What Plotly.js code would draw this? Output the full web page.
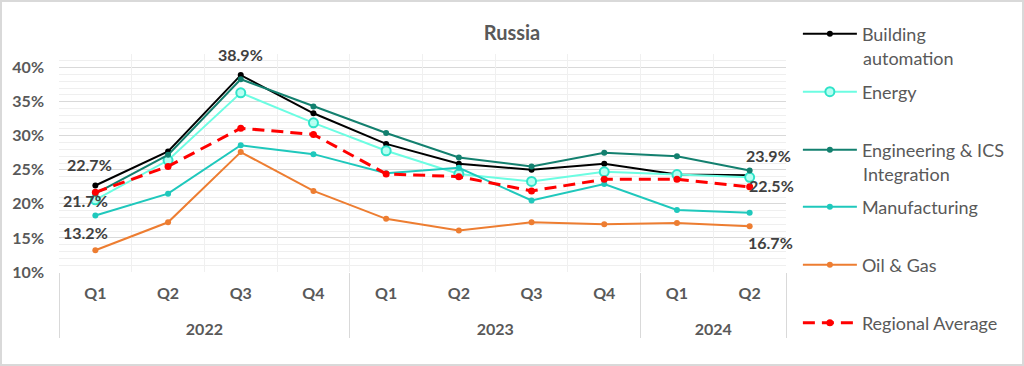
<!DOCTYPE html>
<html>
<head>
<meta charset="utf-8">
<script src="https://cdn.plot.ly/plotly-3.0.1.min.js"></script>
<style>
  html, body { margin: 0; padding: 0; background: #fff; }
  #wrap { width: 1024px; height: 366px; box-sizing: border-box; border: 2px solid #d9d9d9; overflow: hidden; }
  #chart { width: 1020px; height: 362px; }
</style>
</head>
<body>
<div id="wrap"><div id="chart"></div></div>
<script>
// ---- data ----
const years    = ['2022','2022','2022','2022','2023','2023','2023','2023','2024','2024'];
const quarters = ['Q1','Q2','Q3','Q4','Q1','Q2','Q3','Q4','Q1','Q2'];

const seriesNames = ['Building', 'Energy', 'Engineering & ICS', 'Manufacturing', 'Oil & Gas', 'Regional Average'];
const nameSecondLines = ['automation', '', 'Integration', '', '', ''];

const buildingAutomation = [22.7, 27.7, 38.9, 33.3, 28.8, 25.9, 25.0, 25.9, 24.3, 24.2];
const energy             = [20.6, 26.4, 36.3, 31.9, 27.8, 24.4, 23.3, 24.7, 24.3, 23.9];
const engineeringICS     = [21.5, 27.2, 38.3, 34.3, 30.4, 26.8, 25.5, 27.5, 27.0, 24.9];
const manufacturing      = [18.3, 21.5, 28.6, 27.3, 24.5, 25.3, 20.5, 22.9, 19.1, 18.7];
const oilGas             = [13.2, 17.3, 27.6, 21.9, 17.8, 16.1, 17.3, 17.0, 17.2, 16.7];
const regionalAverage    = [21.7, 25.5, 31.1, 30.2, 24.4, 24.0, 21.9, 23.6, 23.6, 22.5];

// ---- styling / placement (not data) ----
const FONT = 'Lato, "Open Sans", "DejaVu Sans", sans-serif';
const colors = ['#000000', '#6cfde2', '#13806f', '#1fc8bc', '#ed7d31', '#ff0000'];
// data-label placement: [series index, point index, xshift, yshift]
const labelPlacement = [
  [0, 0, -6, 21], [0, 2, 0, 21],
  [5, 0, -10, -8], [4, 0, -10, 18],
  [1, 9, 19, 22], [5, 9, 22, 1], [4, 9, 21, -16]
];
// legend symbol rows (page px from top) -> paper fraction computed below
const legendRowsPx = [34, 92, 150, 207, 265, 323];
const plotTopPx = 54, plotBottomPx = 272, plotLeftPx = 59, plotRightPx = 793;

const allSeries = [buildingAutomation, energy, engineeringICS, manufacturing, oilGas, regionalAverage];
// extra blank line under each quarter label opens the gap to the year row
const qDisplay = quarters.map(q => q + '<br><span style="font-size:35px"> </span>');
const x = [years, qDisplay];
const pyFrac = px => (plotBottomPx - px) / (plotBottomPx - plotTopPx);
const pxFrac = px => (px - plotLeftPx) / (plotRightPx - plotLeftPx);

const markerStyles = [
  { color: colors[0], size: 6 },
  { color: '#b6fff2', size: 9, line: { color: '#2fe3c9', width: 2 } },
  { color: colors[2], size: 6 },
  { color: colors[3], size: 6 },
  { color: colors[4], size: 6 },
  { color: colors[5], size: 7 }
];
const lineStyles = [
  { color: colors[0], width: 2 },
  { color: colors[1], width: 2 },
  { color: colors[2], width: 2 },
  { color: colors[3], width: 2 },
  { color: colors[4], width: 2 },
  { color: colors[5], width: 3, dash: '12px,7px' }
];

const traces = allSeries.map((vals, k) => ({
  name: seriesNames[k], x: x, y: vals, mode: 'lines+markers',
  line: lineStyles[k], marker: markerStyles[k], cliponaxis: false,
  legend: k === 0 ? 'legend' : 'legend' + (k + 1)
}));
// invisible helper trace carrying the light centre gridlines (x2)
traces.push({ x: x, y: regionalAverage, xaxis: 'x2', mode: 'markers', marker: { opacity: 0 },
              showlegend: false, hoverinfo: 'skip' });

const annotations = labelPlacement.map(([s, i, dx, dy]) => ({
  xref: 'x', yref: 'y', x: i, y: allSeries[s][i], text: allSeries[s][i].toFixed(1) + '%',
  showarrow: false, xanchor: 'center', yanchor: 'middle', xshift: dx, yshift: dy,
  font: { family: FONT, size: 16, color: '#404040', weight: 'bold' }
}));
// second lines of two-line legend entries
nameSecondLines.forEach((t, k) => {
  if (!t) return;
  annotations.push({ xref: 'paper', yref: 'paper', x: pxFrac(869), y: pyFrac(legendRowsPx[k] + 24),
    text: t, showarrow: false, xanchor: 'left', yanchor: 'middle',
    font: { family: FONT, size: 18, color: '#595959' } });
});

const layout = {
  width: 1020, height: 362,
  margin: { l: 57, r: 229, t: 52, b: 92 },
  paper_bgcolor: '#ffffff', plot_bgcolor: '#ffffff',
  font: { family: FONT, color: '#595959' },
  title: { text: 'Russia', x: 0.5, xref: 'container', xanchor: 'center', y: 1 - 31 / 362, yref: 'container', yanchor: 'middle',
           font: { family: FONT, size: 20, color: '#595959', weight: 'bold' } },
  showlegend: true,
  annotations: annotations,
  xaxis: { type: 'multicategory', range: [-0.5, 9.5], tickson: 'boundaries',
           showgrid: true, gridcolor: '#d9d9d9', gridwidth: 1, ticks: '', showline: false, zeroline: false,
           showdividers: true, dividercolor: '#d9d9d9', dividerwidth: 1, ticklabelstandoff: 10,
           tickfont: { family: FONT, size: 16, color: '#595959', weight: 'bold' } },
  xaxis2: { type: 'multicategory', overlaying: 'x', range: [-0.5, 9.5], showgrid: true, gridcolor: '#f0f0f0',
            showticklabels: false, showdividers: false, ticks: '', showline: false, zeroline: false },
  yaxis: { range: [10, 42], dtick: 5, tick0: 10, ticksuffix: '%', showgrid: true, gridcolor: '#d9d9d9',
           zeroline: false, showline: false, ticks: '', ticklabelstandoff: 14,
           minor: { dtick: 1, showgrid: true, gridcolor: '#efefef' },
           tickfont: { family: FONT, size: 16, color: '#595959', weight: 'bold' } }
};
legendRowsPx.forEach((py, k) => {
  layout[k === 0 ? 'legend' : 'legend' + (k + 1)] = {
    x: pxFrac(805), xanchor: 'left', y: pyFrac(py), yanchor: 'middle', itemwidth: 54,
    font: { family: FONT, size: 18, color: '#595959' }, bgcolor: 'rgba(0,0,0,0)'
  };
});

Plotly.newPlot('chart', traces, layout, { staticPlot: true, displayModeBar: false });
</script>
</body>
</html>
